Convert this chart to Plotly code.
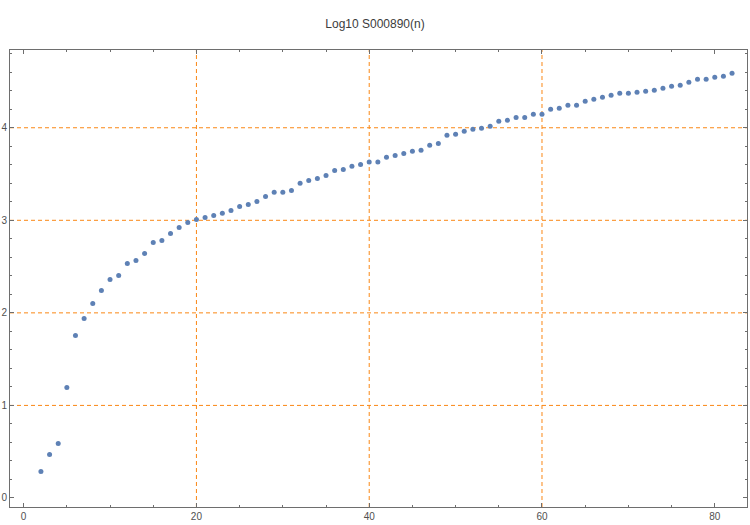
import plotly.graph_objects as go

n_values = list(range(2, 83))
log_values = [
    0.285, 0.469, 0.588, 1.194, 1.756, 1.939, 2.100, 2.242, 2.361, 2.404,
    2.534, 2.566, 2.642, 2.761, 2.783, 2.858, 2.923, 2.977, 3.010, 3.031,
    3.053, 3.075, 3.107, 3.150, 3.172, 3.204, 3.258, 3.302, 3.302, 3.323,
    3.399, 3.431, 3.453, 3.485, 3.539, 3.550, 3.583, 3.604, 3.629, 3.629,
    3.680, 3.700, 3.723, 3.745, 3.756, 3.810, 3.831, 3.918, 3.929, 3.961,
    3.983, 3.994, 4.015, 4.069, 4.080, 4.112, 4.112, 4.145, 4.145, 4.199,
    4.210, 4.242, 4.242, 4.285, 4.307, 4.329, 4.350, 4.372, 4.372, 4.383,
    4.394, 4.405, 4.426, 4.448, 4.459, 4.491, 4.524, 4.524, 4.545, 4.556,
    4.588,
]
x_ticks = [0, 20, 40, 60, 80]
y_ticks = [0, 1, 2, 3, 4]
grid_x = [20, 40, 60]
grid_y = [1, 2, 3, 4]
title_text = "Log10 S000890(n)"

orange = "rgb(250,135,20)"
axis_col = "rgb(110,110,110)"

fig = go.Figure()
fig.add_trace(go.Scatter(
    x=n_values, y=log_values, mode="markers",
    marker=dict(color="rgb(94,129,181)", size=5),
    showlegend=False,
))

shapes = []
for gx in grid_x:
    shapes.append(dict(type="line", xref="x", yref="paper", x0=gx, x1=gx, y0=0, y1=1,
                       line=dict(color=orange, width=1, dash="4px,3px"), layer="below"))
for gy in grid_y:
    shapes.append(dict(type="line", xref="paper", yref="y", x0=0, x1=1, y0=gy, y1=gy,
                       line=dict(color=orange, width=1, dash="4px,3px"), layer="below"))

axis_common = dict(
    showline=True, linecolor=axis_col, linewidth=1, mirror="ticks", automargin=False,
    ticks="inside", ticklen=4, tickcolor=axis_col, showgrid=False, zeroline=False,
    tickfont=dict(family="Liberation Sans, Arial, sans-serif", size=10, color="rgb(80,80,80)"),
)

fig.update_layout(
    width=750, height=525,
    margin=dict(l=10, r=3, t=50, b=18),
    paper_bgcolor="white", plot_bgcolor="white",
    title=dict(text=title_text, x=0.5, xanchor="center", y=0.955, yanchor="middle",
               font=dict(family="Liberation Sans, Arial, sans-serif", size=12, color="rgb(60,60,60)")),
    shapes=shapes,
    xaxis=dict(range=[-1.58, 83.73], tickvals=x_ticks, ticklabelstandoff=0,
               minor=dict(dtick=5, tick0=0, ticks="inside", ticklen=2, tickcolor=axis_col),
               **axis_common),
    yaxis=dict(range=[-0.0975, 4.84], tickvals=y_ticks, ticklabelstandoff=0,
               minor=dict(dtick=0.2, tick0=0, ticks="inside", ticklen=2, tickcolor=axis_col),
               **axis_common),
)

fig.write_html("out.html", config={"displayModeBar": False},
               post_script="document.body.style.margin='0';document.body.style.overflow='hidden';")
